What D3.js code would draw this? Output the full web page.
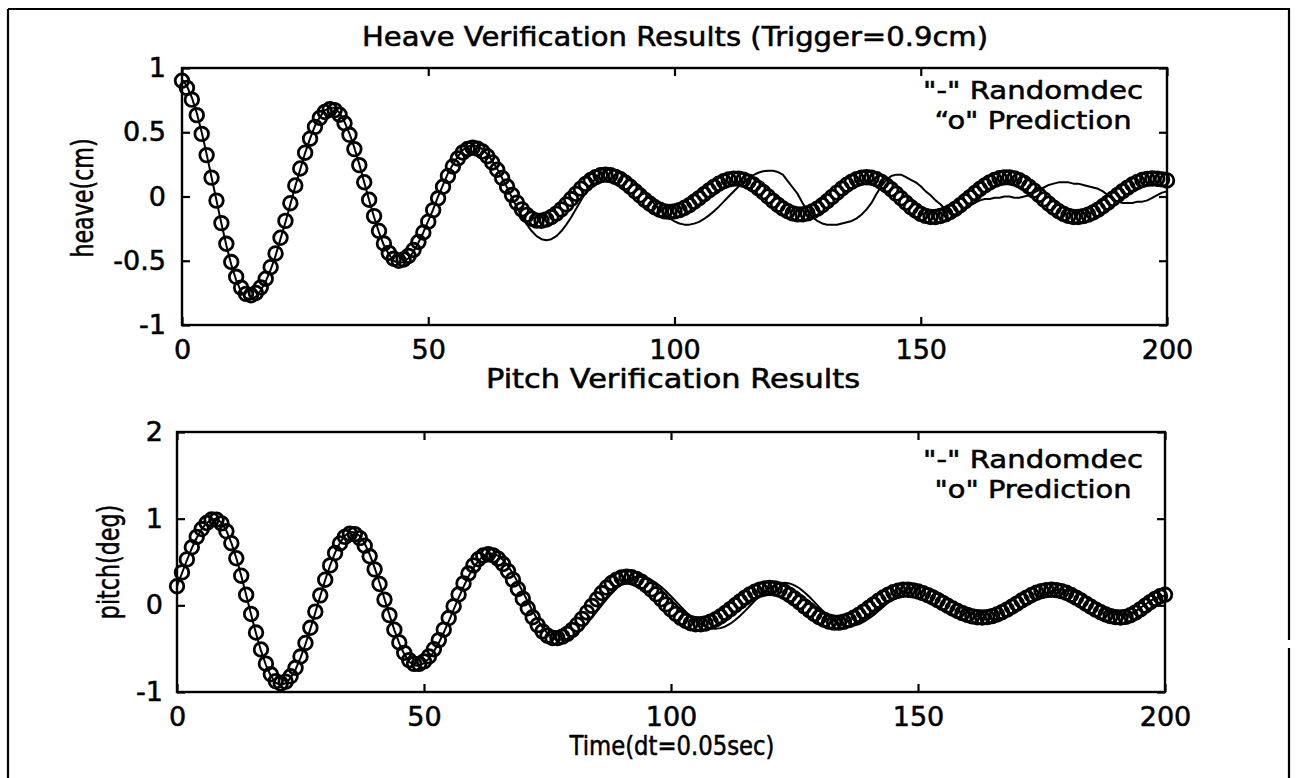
<!DOCTYPE html>
<html>
<head>
<meta charset="utf-8">
<script src="https://cdn.jsdelivr.net/npm/d3@7"></script>
<style>
  html, body { margin: 0; padding: 0; background: #fff; }
  svg { display: block; }
  text { font-family: "DejaVu Sans", sans-serif; fill: #000; stroke: #000; stroke-width: 0.55px; }
</style>
</head>
<body>
<svg id="chart" width="1300" height="778"></svg>
<script>
// ---------------- DATA ----------------
const timeSteps = d3.range(0, 201); // sample index 0..200

const heavePrediction = [
  0.901, 0.845, 0.754, 0.633, 0.487, 0.322, 0.147, -0.032, -0.207, -0.368, -0.510, -0.625, -0.709, -0.758, -0.769,
  -0.751, -0.707, -0.640, -0.550, -0.443, -0.321, -0.190, -0.052, 0.086, 0.218, 0.341, 0.450, 0.542, 0.612, 0.658, 0.679,
  0.672, 0.636, 0.570, 0.480, 0.369, 0.244, 0.111, -0.025, -0.153, -0.268, -0.366, -0.439, -0.485, -0.500,
  -0.490, -0.462, -0.416, -0.354, -0.280, -0.196, -0.106, -0.014, 0.076, 0.160, 0.234, 0.296, 0.342, 0.370, 0.380,
  0.372, 0.350, 0.313, 0.265, 0.208, 0.144, 0.078, 0.013, -0.048, -0.100, -0.143, -0.173, -0.188,
  -0.189, -0.179, -0.160, -0.133, -0.100, -0.062, -0.020, 0.021, 0.061, 0.098, 0.128, 0.151, 0.165, 0.170,
  0.166, 0.153, 0.134, 0.107, 0.076, 0.042, 0.008, -0.026, -0.057, -0.084, -0.103, -0.116, -0.120,
  -0.116, -0.106, -0.090, -0.068, -0.041, -0.013, 0.018, 0.047, 0.075, 0.099, 0.119, 0.132, 0.139,
  0.139, 0.131, 0.115, 0.093, 0.065, 0.034, 0.000, -0.034, -0.065, -0.093, -0.115, -0.131, -0.139,
  -0.139, -0.131, -0.116, -0.094, -0.068, -0.037, -0.003, 0.030, 0.062, 0.092, 0.116, 0.135, 0.146, 0.150,
  0.146, 0.134, 0.114, 0.088, 0.056, 0.022, -0.014, -0.049, -0.083, -0.111, -0.135, -0.151, -0.159,
  -0.159, -0.152, -0.139, -0.120, -0.096, -0.068, -0.037, -0.005, 0.027, 0.058, 0.086, 0.110, 0.129, 0.142, 0.149,
  0.149, 0.141, 0.126, 0.105, 0.077, 0.046, 0.012, -0.022, -0.056, -0.087, -0.115, -0.136, -0.151, -0.159,
  -0.159, -0.153, -0.141, -0.124, -0.102, -0.076, -0.048, -0.018, 0.013, 0.042, 0.069, 0.093, 0.113, 0.128, 0.137, 0.140, 0.138, 0.133, 0.125
];

const heaveRandomdec = [
  0.91, 0.86, 0.77, 0.65, 0.50, 0.33, 0.15, -0.03, -0.21, -0.38, -0.53, -0.65, -0.74, -0.79, -0.80,
  -0.78, -0.73, -0.66, -0.57, -0.46, -0.33, -0.20, -0.06, 0.08, 0.21, 0.34, 0.45, 0.55, 0.62, 0.67, 0.69,
  0.69, 0.65, 0.58, 0.49, 0.38, 0.25, 0.11, -0.03, -0.16, -0.28, -0.38, -0.45, -0.50, -0.52,
  -0.51, -0.48, -0.43, -0.36, -0.28, -0.19, -0.10, 0.00, 0.09, 0.18, 0.25, 0.31, 0.36, 0.39, 0.40,
  0.392, 0.368, 0.329, 0.278, 0.215, 0.144, 0.069, -0.009, -0.084, -0.155, -0.218, -0.269, -0.308, -0.332, -0.340,
  -0.332, -0.309, -0.271, -0.221, -0.163, -0.098, -0.032, 0.033, 0.091, 0.141, 0.179, 0.202, 0.210,
  0.206, 0.193, 0.171, 0.143, 0.109, 0.070, 0.028, -0.016, -0.059, -0.100, -0.137, -0.168, -0.193, -0.210, -0.219,
  -0.219, -0.211, -0.197, -0.175, -0.147, -0.115, -0.079, -0.040, 0.000, 0.039, 0.077, 0.112, 0.142, 0.167, 0.185, 0.196, 0.200,
  0.20, 0.19, 0.17, 0.12, 0.07, 0.02, -0.05, -0.11, -0.16, -0.19, -0.21, -0.22, -0.22, -0.22, -0.21, -0.20, -0.19, -0.17,
  -0.14, -0.10, -0.05, 0.02, 0.08, 0.13, 0.16, 0.17, 0.17, 0.15, 0.13, 0.11, 0.08, 0.04, 0.01, -0.03, -0.06, -0.10, -0.13,
  -0.14, -0.13, -0.10, -0.07, -0.05, -0.03, -0.02, -0.02, -0.01, -0.01, 0.00, 0.00, -0.01, -0.01, 0.00, 0.01, 0.03, 0.05,
  0.07, 0.09, 0.10, 0.11, 0.11, 0.11, 0.10, 0.10, 0.09, 0.08, 0.07, 0.06, 0.04, 0.01, -0.02, -0.04, -0.05, -0.05, -0.05,
  -0.04, -0.04, -0.03, -0.01, 0.01, 0.03, 0.04
];

const pitchPrediction = [
  0.22, 0.38, 0.53, 0.67, 0.79, 0.88, 0.95, 0.99,
  0.988, 0.946, 0.854, 0.717, 0.543, 0.342, 0.122, -0.100, -0.314, -0.509, -0.673, -0.796, -0.874, -0.900,
  -0.880, -0.819, -0.721, -0.591, -0.434, -0.259, -0.073, 0.115, 0.296, 0.461, 0.603, 0.714, 0.790, 0.827,
  0.822, 0.775, 0.688, 0.566, 0.415, 0.246, 0.066, -0.113, -0.282, -0.429, -0.548, -0.632, -0.675,
  -0.676, -0.647, -0.589, -0.506, -0.401, -0.280, -0.147, -0.011, 0.125, 0.253, 0.367, 0.461, 0.531, 0.575, 0.590,
  0.577, 0.538, 0.477, 0.395, 0.297, 0.189, 0.077, -0.034, -0.138, -0.228, -0.300, -0.351, -0.377,
  -0.378, -0.361, -0.329, -0.283, -0.224, -0.156, -0.082, -0.006, 0.070, 0.142, 0.205, 0.258, 0.297, 0.322, 0.330,
  0.324, 0.305, 0.274, 0.233, 0.184, 0.128, 0.070, 0.011, -0.047, -0.099, -0.145, -0.181, -0.206, -0.218,
  -0.219, -0.209, -0.190, -0.163, -0.128, -0.088, -0.044, 0.001, 0.046, 0.089, 0.126, 0.157, 0.181, 0.195, 0.200,
  0.195, 0.179, 0.153, 0.120, 0.079, 0.035, -0.012, -0.057, -0.100, -0.137, -0.167, -0.188, -0.199,
  -0.199, -0.189, -0.171, -0.144, -0.111, -0.073, -0.031, 0.011, 0.053, 0.091, 0.124, 0.151, 0.169, 0.179,
  0.179, 0.173, 0.160, 0.141, 0.118, 0.090, 0.060, 0.028, -0.004, -0.036, -0.065, -0.090, -0.111, -0.127, -0.137, -0.140,
  -0.136, -0.124, -0.105, -0.080, -0.049, -0.016, 0.020, 0.056, 0.089, 0.120, 0.145, 0.164, 0.176, 0.180,
  0.176, 0.164, 0.145, 0.120, 0.089, 0.056, 0.020, -0.016, -0.049, -0.080, -0.105, -0.124, -0.136, -0.140,
  -0.133, -0.114, -0.084, -0.047, -0.005, 0.037, 0.074, 0.104, 0.123
];

const pitchRandomdec = [
  0.22, 0.37, 0.52, 0.66, 0.78, 0.88, 0.95, 0.99,
  0.998, 0.955, 0.862, 0.722, 0.546, 0.341, 0.119, -0.107, -0.324, -0.523, -0.689, -0.815, -0.893, -0.920,
  -0.899, -0.838, -0.740, -0.607, -0.449, -0.272, -0.083, 0.107, 0.292, 0.462, 0.608, 0.723, 0.804, 0.845,
  0.844, 0.800, 0.713, 0.589, 0.435, 0.260, 0.075, -0.110, -0.285, -0.439, -0.563, -0.650, -0.694,
  -0.696, -0.668, -0.613, -0.533, -0.432, -0.314, -0.185, -0.050, 0.085, 0.214, 0.332, 0.433, 0.513, 0.568, 0.596,
  0.597, 0.572, 0.523, 0.454, 0.366, 0.265, 0.156, 0.044, -0.065, -0.166, -0.254, -0.323, -0.372, -0.397,
  -0.398, -0.384, -0.357, -0.317, -0.267, -0.207, -0.141, -0.071, 0.001, 0.071, 0.137, 0.197, 0.247, 0.287, 0.314, 0.328,
  0.328, 0.316, 0.292, 0.258, 0.214, 0.162, 0.105, 0.045, -0.015, -0.074, -0.129, -0.177, -0.216, -0.246, -0.264,
  -0.270, -0.263, -0.244, -0.212, -0.170, -0.120, -0.064, -0.005, 0.054, 0.110, 0.160, 0.202, 0.234, 0.253, 0.260,
  0.253, 0.231, 0.197, 0.152, 0.099, 0.040, -0.020, -0.079, -0.132, -0.177, -0.211, -0.233, -0.240,
  -0.234, -0.218, -0.191, -0.155, -0.113, -0.065, -0.015, 0.035, 0.083, 0.125, 0.161, 0.188, 0.204, 0.210,
  0.206, 0.194, 0.175, 0.149, 0.118, 0.082, 0.044, 0.006, -0.032, -0.068, -0.099, -0.125, -0.144, -0.156, -0.160,
  -0.156, -0.143, -0.123, -0.096, -0.064, -0.028, 0.010, 0.048, 0.084, 0.116, 0.143, 0.163, 0.176, 0.180,
  0.176, 0.165, 0.147, 0.123, 0.095, 0.063,
  0.03, -0.01, -0.05, -0.08, -0.10, -0.115, -0.12, -0.10, -0.07, -0.03, 0.01, 0.05, 0.08, 0.10, 0.11
];

const xTickValues = [0, 50, 100, 150, 200];
const xTickLabels = ["0", "50", "100", "150", "200"];
const heaveTickValues = [-1, -0.5, 0, 0.5, 1];
const heaveTickLabels = ["-1", "-0.5", "0", "0.5", "1"];
const pitchTickValues = [-1, 0, 1, 2];
const pitchTickLabels = ["-1", "0", "1", "2"];

const heaveTitle = "Heave Verification Results (Trigger=0.9cm)";
const pitchTitle = "Pitch Verification Results";
const heaveYLabel = "heave(cm)";
const pitchYLabel = "pitch(deg)";
const xLabel = "Time(dt=0.05sec)";
const heaveLegend = ['"-" Randomdec', '\u201Co" Prediction'];
const pitchLegend = ['"-" Randomdec', '"o" Prediction'];

[heavePrediction, heaveRandomdec, pitchPrediction, pitchRandomdec].forEach((a, i) => {
  if (a.length !== timeSteps.length) throw new Error("series " + i + " has length " + a.length);
});

// ---------------- DRAW ----------------
const svg = d3.select("#chart");
svg.append("rect").attr("width", 1300).attr("height", 778).attr("fill", "#fff").attr("stroke", "none");

// outer figure frame (scanned page border)
const frame = svg.append("g").attr("fill", "none").attr("stroke", "#000").attr("stroke-width", 2.2);
frame.append("line").attr("x1", 8).attr("y1", 9).attr("x2", 1290).attr("y2", 9);
frame.append("line").attr("x1", 8).attr("y1", 9).attr("x2", 8).attr("y2", 790);
frame.append("line").attr("x1", 1289).attr("y1", 9).attr("x2", 1289).attr("y2", 640);
frame.append("line").attr("x1", 1289).attr("y1", 648).attr("x2", 1289).attr("y2", 790);

function panel(cfg) {
  const x = d3.scaleLinear().domain([0, 200]).range([cfg.left, cfg.right]);
  const y = d3.scaleLinear().domain(cfg.yDomain).range([cfg.bottom, cfg.top]);
  const g = svg.append("g");

  // data: line first, then circle markers (plot order)
  const line = d3.line().x((d, i) => x(timeSteps[i])).y(d => y(d)).curve(d3.curveLinear);
  g.append("path").datum(cfg.line)
    .attr("d", line).attr("fill", "none").attr("stroke", "#000")
    .attr("stroke-width", 2).attr("stroke-linejoin", "round");
  g.append("g").selectAll("circle").data(cfg.markers).join("circle")
    .attr("cx", (d, i) => x(timeSteps[i])).attr("cy", d => y(d))
    .attr("r", 6.8).attr("fill", "none").attr("stroke", "#000").attr("stroke-width", 2.8);

  // axes box
  g.append("rect").attr("x", cfg.left).attr("y", cfg.top)
    .attr("width", cfg.right - cfg.left).attr("height", cfg.bottom - cfg.top)
    .attr("fill", "none").attr("stroke", "#000").attr("stroke-width", 2.4);

  const tickStyle = sel => {
    sel.select(".domain").remove();
    sel.selectAll(".tick line").attr("stroke", "#000").attr("stroke-width", 2.2);
    sel.selectAll(".tick text").attr("font-size", 27).attr("fill", "#000")
      .attr("font-family", '"DejaVu Sans", sans-serif');
  };

  const xLabelMap = new Map(xTickValues.map((v, i) => [v, xTickLabels[i]]));
  const yLabelMap = new Map(cfg.yTicks.map((v, i) => [v, cfg.yTickLabels[i]]));

  g.append("g").attr("transform", `translate(0,${cfg.bottom})`)
    .call(d3.axisBottom(x).tickValues(xTickValues).tickSize(-8).tickPadding(cfg.xPad)
      .tickFormat(v => xLabelMap.get(v)))
    .call(tickStyle);
  g.append("g").attr("transform", `translate(0,${cfg.top})`)
    .call(d3.axisTop(x).tickValues(xTickValues).tickSize(-8).tickFormat(""))
    .call(tickStyle);
  g.append("g").attr("transform", `translate(${cfg.left},0)`)
    .call(d3.axisLeft(y).tickValues(cfg.yTicks).tickSize(-8).tickPadding(cfg.yPad)
      .tickFormat(v => yLabelMap.get(v)))
    .call(tickStyle);
  g.append("g").attr("transform", `translate(${cfg.right},0)`)
    .call(d3.axisRight(y).tickValues(cfg.yTicks).tickSize(-8).tickFormat(""))
    .call(tickStyle);

  // title
  g.append("text").attr("x", cfg.titleX).attr("y", cfg.titleY)
    .attr("text-anchor", "middle").attr("font-size", 26)
    .attr("textLength", cfg.titleWidth).attr("lengthAdjust", "spacingAndGlyphs")
    .text(cfg.title);

  // y label (condensed along the text direction, as in the scan)
  g.append("text")
    .attr("transform", `translate(${cfg.yLabelX},${cfg.yLabelY}) rotate(-90) scale(0.74,1)`)
    .attr("text-anchor", "middle").attr("font-size", 30)
    .text(cfg.yLabel);

  // legend text (in-axes annotation)
  cfg.legend.forEach((t, i) => {
    g.append("text").attr("x", 1033).attr("y", cfg.legendY[i])
      .attr("text-anchor", "middle").attr("font-size", 25)
      .attr("textLength", cfg.legendW[i]).attr("lengthAdjust", "spacingAndGlyphs")
      .text(t);
  });
  return {x, y};
}

panel({
  left: 182, right: 1167, top: 68, bottom: 325, yDomain: [-1, 1],
  yTicks: heaveTickValues, yTickLabels: heaveTickLabels,
  line: heaveRandomdec, markers: heavePrediction,
  xPad: 15, yPad: 16, title: heaveTitle, titleX: 675, titleY: 46, titleWidth: 626,
  yLabel: heaveYLabel, yLabelX: 93, yLabelY: 198,
  legend: heaveLegend, legendY: [99, 129], legendW: [220, 197]
});

panel({
  left: 177, right: 1165, top: 432, bottom: 692, yDomain: [-1, 2],
  yTicks: pitchTickValues, yTickLabels: pitchTickLabels,
  line: pitchRandomdec, markers: pitchPrediction,
  xPad: 15, yPad: 14, title: pitchTitle, titleX: 673, titleY: 388, titleWidth: 374,
  yLabel: pitchYLabel, yLabelX: 119, yLabelY: 562,
  legend: pitchLegend, legendY: [468, 498], legendW: [220, 197]
});

// x label (bottom panel)
svg.append("text").attr("x", 672).attr("y", 755).attr("text-anchor", "middle")
  .attr("font-size", 27).attr("textLength", 205).attr("lengthAdjust", "spacingAndGlyphs")
  .text(xLabel);
</script>
</body>
</html>
